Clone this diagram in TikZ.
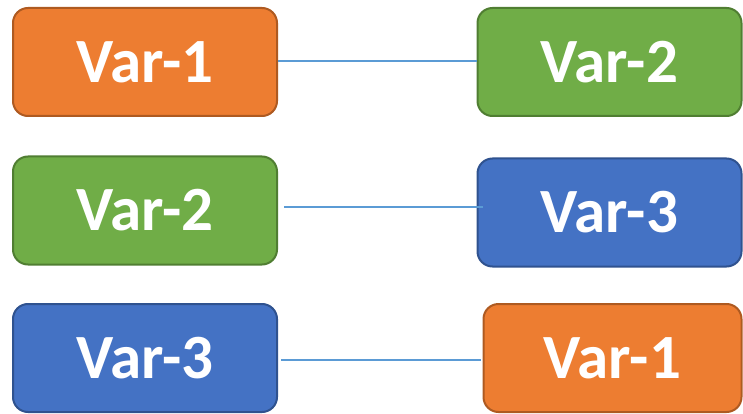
\documentclass[tikz,border=0pt]{standalone}
\usepackage{fontspec}
\setmainfont{Carlito}
\definecolor{orangefill}{HTML}{ED7D31}
\definecolor{orangeline}{HTML}{AE5A21}
\definecolor{greenfill}{HTML}{70AD47}
\definecolor{greenline}{HTML}{507E32}
\definecolor{bluefill}{HTML}{4472C4}
\definecolor{blueline}{HTML}{2F528F}
\definecolor{linkblue}{HTML}{5B9BD5}
\tikzset{
  varbox/.style={rectangle, rounded corners=15pt, line width=2pt,
    minimum width=264pt, minimum height=108pt, inner sep=0pt,
    text=white, font=\fontsize{63}{63}\selectfont\bfseries},
  orangebox/.style={varbox, fill=orangefill, draw=orangeline},
  greenbox/.style={varbox, fill=greenfill, draw=greenline},
  bluebox/.style={varbox, fill=bluefill, draw=blueline},
  link/.style={draw=linkblue, line width=1.2pt}
}
\begin{document}
\begin{tikzpicture}[x=1pt, y=-1pt]
  \useasboundingbox (0,0) rectangle (743,414);

  % left column
  \node[orangebox] (l1) at (145,62) {Var-1};
  \node[greenbox]  (l2) at (145,210.5) {Var-2};
  \node[bluebox]   (l3) at (145,358) {Var-3};

  % right column
  \node[greenbox]  (r1) at (609.5,62) {Var-2};
  \node[bluebox]   (r2) at (609.5,212.5) {Var-3};
  \node[orangebox, minimum width=258pt] (r3) at (612.5,358) {Var-1};

  % connectors
  \draw[link] ([yshift=1pt]l1.east) -- ([yshift=1pt]r1.west);
  \draw[link] ([xshift=6pt,yshift=3.5pt]l2.east) -- ([xshift=6pt,yshift=5.5pt]r2.west);
  \draw[link] ([xshift=3pt,yshift=-2pt]l3.east) -- ([xshift=-2pt,yshift=-2pt]r3.west);
\end{tikzpicture}
\end{document}
